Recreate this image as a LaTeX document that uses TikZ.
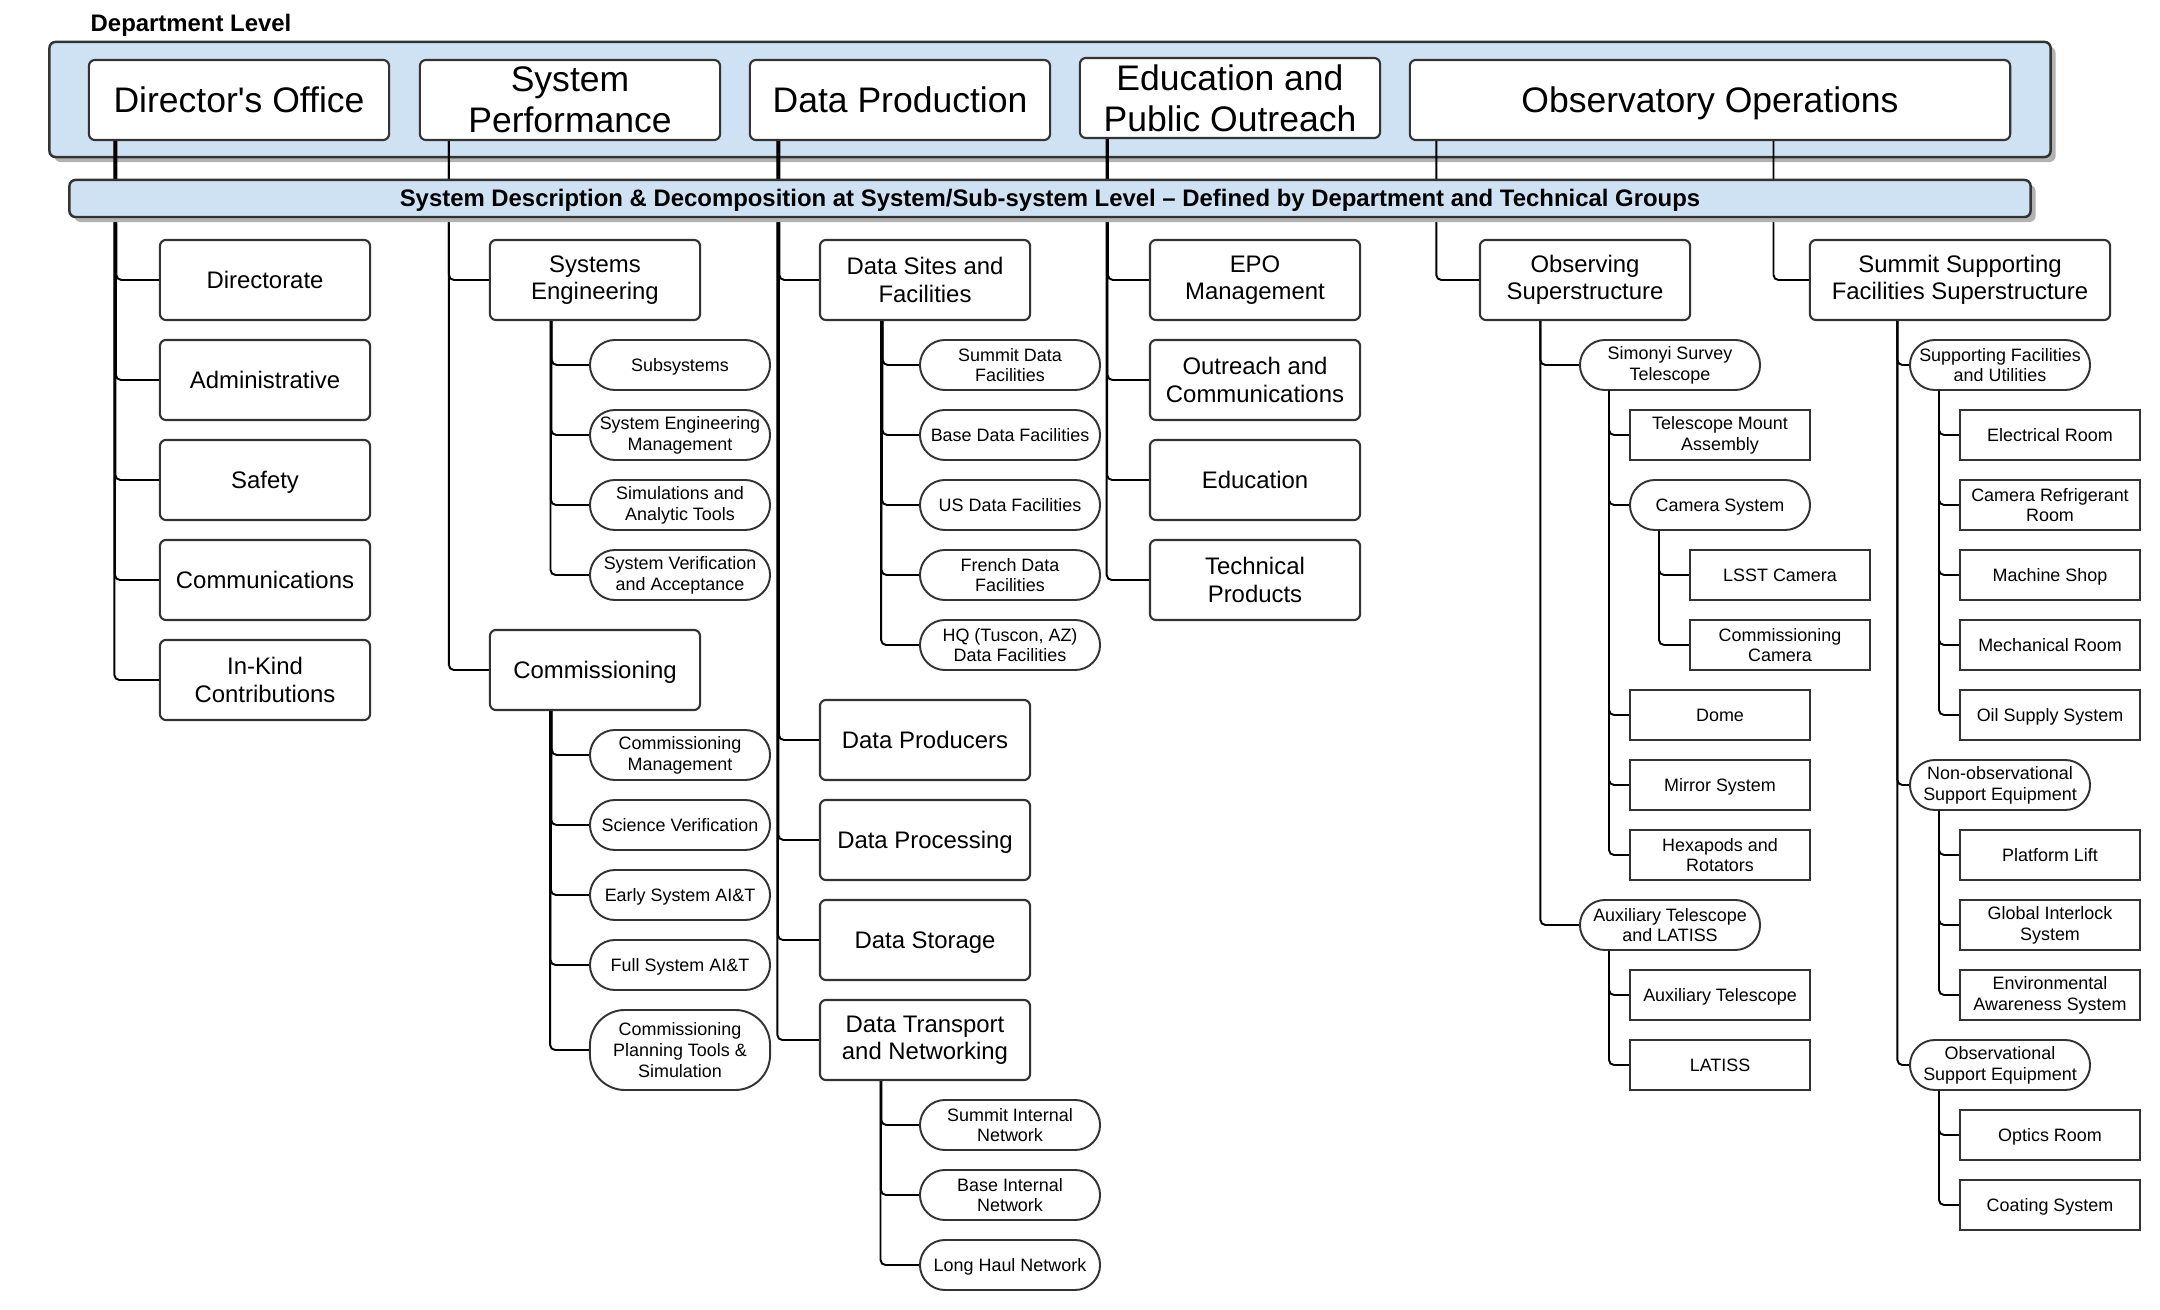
\documentclass[tikz,border=0pt]{standalone}
\usepackage{fontspec}
\setmainfont{Liberation Sans}
\usetikzlibrary{shadows}
\definecolor{bandblue}{HTML}{CFE2F3}
\definecolor{boxline}{HTML}{333333}
\newcommand{\linestrut}{\rule[-0.2em]{0pt}{1.1em}}

\begin{document}
\begin{tikzpicture}[x=0.01cm,y=-0.01cm]
	\tikzset{one/.style = {execute at begin node=\linestrut, execute at end node=\linestrut}}
	\tikzset{band/.style = {draw=boxline, fill=bandblue, line width=0.7pt, rounded corners=0.06cm, inner sep=0pt,
		drop shadow={shadow xshift=0.05cm, shadow yshift=-0.05cm, fill=black!30, opacity=1}}}
	\tikzset{dept/.style = {draw=boxline, fill=white, line width=0.6pt, rounded corners=0.06cm, minimum width=3cm,
		minimum height=0.8cm, inner sep=0pt, align=center, font=\fontsize{10.1}{11.6}\selectfont}}
	\tikzset{group/.style = {draw=boxline, fill=white, line width=0.6pt, rounded corners=0.06cm, minimum width=2.1cm,
		minimum height=0.8cm, inner sep=0pt, align=center, font=\fontsize{6.8}{7.8}\selectfont}}
	\tikzset{pill/.style = {draw=boxline, fill=white, line width=0.55pt, rounded corners=0.25cm, minimum width=1.8cm,
		minimum height=0.5cm, inner sep=0pt, align=center, font=\fontsize{5.1}{5.9}\selectfont}}
	\tikzset{leaf/.style = {draw=boxline, fill=white, line width=0.55pt, minimum width=1.8cm,
		minimum height=0.5cm, inner sep=0pt, align=center, font=\fontsize{5.1}{5.9}\selectfont}}
	\tikzset{link/.style = {draw=black, line width=0.55pt, rounded corners=0.05cm}}
	\useasboundingbox (0,0) rectangle (2160,1310);

	% department level
	\node[one, anchor=west, font=\bfseries\fontsize{6.8}{7.8}\selectfont, inner sep=0pt] (title) at (90,23) {Department Level};
	\node[band, minimum width=20cm, minimum height=1.15cm] (deptband) at (1050,99.5) {};
	\node[dept, one] (dir) at (239,100) {Director{\textquotesingle}s Office};
	\node[dept] (sysperf) at (570,100) {System\\Performance};
	\node[dept, one] (dataprod) at (900,100) {Data Production};
	\node[dept] (epo) at (1230,98) {Education and\\Public Outreach};
	\node[dept, one, minimum width=6cm] (obsops) at (1710,100) {Observatory Operations};

	% director's office
	\node[group, one] (directorate) at (265,280) {Directorate};
	\node[group, one] (admin) at (265,380) {Administrative};
	\node[group, one] (safety) at (265,480) {Safety};
	\node[group, one] (comms) at (265,580) {Communications};
	\node[group] (inkind) at (265,680) {In-Kind\\Contributions};

	% system performance
	\node[group] (syseng) at (595,280) {Systems\\Engineering};
	\node[pill, one] (subsys) at (680,365) {Subsystems};
	\node[pill] (semgmt) at (680,435) {System Engineering\\Management};
	\node[pill] (simtools) at (680,505) {Simulations and\\Analytic Tools};
	\node[pill] (sva) at (680,575) {System Verification\\and Acceptance};
	\node[group, one] (commiss) at (595,670) {Commissioning};
	\node[pill] (commgmt) at (680,755) {Commissioning\\Management};
	\node[pill, one] (sciver) at (680,825) {Science Verification};
	\node[pill, one] (earlyait) at (680,895) {Early System AI\&T};
	\node[pill, one] (fullait) at (680,965) {Full System AI\&T};
	\node[pill, minimum height=0.8cm, rounded corners=0.35cm] (complan) at (680,1050) {Commissioning\\Planning Tools \&\\Simulation};

	% data production
	\node[group] (datasites) at (925,280) {Data Sites and\\Facilities};
	\node[pill] (summitdf) at (1010,365) {Summit Data\\Facilities};
	\node[pill, one] (basedf) at (1010,435) {Base Data Facilities};
	\node[pill, one] (usdf) at (1010,505) {US Data Facilities};
	\node[pill] (frenchdf) at (1010,575) {French Data\\Facilities};
	\node[pill] (hqdf) at (1010,645) {HQ (Tuscon, AZ)\\Data Facilities};
	\node[group, one] (producers) at (925,740) {Data Producers};
	\node[group, one] (processing) at (925,840) {Data Processing};
	\node[group, one] (storage) at (925,940) {Data Storage};
	\node[group] (transport) at (925,1040) {Data Transport\\and Networking};
	\node[pill] (summitnet) at (1010,1125) {Summit Internal\\Network};
	\node[pill] (basenet) at (1010,1195) {Base Internal\\Network};
	\node[pill, one] (longhaul) at (1010,1265) {Long Haul Network};

	% education and public outreach
	\node[group] (epomgmt) at (1255,280) {EPO\\Management};
	\node[group] (outreach) at (1255,380) {Outreach and\\Communications};
	\node[group, one] (education) at (1255,480) {Education};
	\node[group] (techprod) at (1255,580) {Technical\\Products};

	% observatory operations
	\node[group] (obssuper) at (1585,280) {Observing\\Superstructure};
	\node[pill] (simonyi) at (1670,365) {Simonyi Survey\\Telescope};
	\node[leaf] (tma) at (1720,435) {Telescope Mount\\Assembly};
	\node[pill, one] (camsys) at (1720,505) {Camera System};
	\node[leaf, one] (lsstcam) at (1780,575) {LSST Camera};
	\node[leaf] (comcam) at (1780,645) {Commissioning\\Camera};
	\node[leaf, one] (dome) at (1720,715) {Dome};
	\node[leaf, one] (mirror) at (1720,785) {Mirror System};
	\node[leaf] (hexapods) at (1720,855) {Hexapods and\\Rotators};
	\node[pill] (auxlatiss) at (1670,925) {Auxiliary Telescope\\and LATISS};
	\node[leaf, one] (auxtel) at (1720,995) {Auxiliary Telescope};
	\node[leaf, one] (latiss) at (1720,1065) {LATISS};

	\node[group, minimum width=3cm] (summitsup) at (1960,280) {Summit Supporting\\Facilities Superstructure};
	\node[pill] (sfu) at (2000,365) {Supporting Facilities\\and Utilities};
	\node[leaf, one] (elecroom) at (2050,435) {Electrical Room};
	\node[leaf] (camref) at (2050,505) {Camera Refrigerant\\Room};
	\node[leaf, one] (machshop) at (2050,575) {Machine Shop};
	\node[leaf, one] (mechroom) at (2050,645) {Mechanical Room};
	\node[leaf, one] (oilsupply) at (2050,715) {Oil Supply System};
	\node[pill] (nonobs) at (2000,785) {Non-observational\\Support Equipment};
	\node[leaf, one] (platlift) at (2050,855) {Platform Lift};
	\node[leaf] (interlock) at (2050,925) {Global Interlock\\System};
	\node[leaf] (envaware) at (2050,995) {Environmental\\Awareness System};
	\node[pill] (obssupport) at (2000,1065) {Observational\\Support Equipment};
	\node[leaf, one] (optics) at (2050,1135) {Optics Room};
	\node[leaf, one] (coating) at (2050,1205) {Coating System};

	% connectors
	\draw[link] ([xshift=0.285cm]dir.south west) |- (directorate.west);
	\draw[link] ([xshift=0.28cm]dir.south west) |- (admin.west);
	\draw[link] ([xshift=0.275cm]dir.south west) |- (safety.west);
	\draw[link] ([xshift=0.27cm]dir.south west) |- (comms.west);
	\draw[link] ([xshift=0.265cm]dir.south west) |- (inkind.west);

	\draw[link] ([xshift=0.3cm]sysperf.south west) |- (syseng.west);
	\draw[link] ([xshift=0.3cm]sysperf.south west) |- (commiss.west);
	\draw[link] ([xshift=0.628cm]syseng.south west) |- (subsys.west);
	\draw[link] ([xshift=0.624cm]syseng.south west) |- (semgmt.west);
	\draw[link] ([xshift=0.62cm]syseng.south west) |- (simtools.west);
	\draw[link] ([xshift=0.616cm]syseng.south west) |- (sva.west);
	\draw[link] ([xshift=0.628cm]commiss.south west) |- (commgmt.west);
	\draw[link] ([xshift=0.624cm]commiss.south west) |- (sciver.west);
	\draw[link] ([xshift=0.62cm]commiss.south west) |- (earlyait.west);
	\draw[link] ([xshift=0.616cm]commiss.south west) |- (fullait.west);
	\draw[link] ([xshift=0.612cm]commiss.south west) |- (complan.west);

	\draw[link] ([xshift=0.305cm]dataprod.south west) |- (datasites.west);
	\draw[link] ([xshift=0.3cm]dataprod.south west) |- (producers.west);
	\draw[link] ([xshift=0.295cm]dataprod.south west) |- (processing.west);
	\draw[link] ([xshift=0.29cm]dataprod.south west) |- (storage.west);
	\draw[link] ([xshift=0.285cm]dataprod.south west) |- (transport.west);
	\draw[link] ([xshift=0.638cm]datasites.south west) |- (summitdf.west);
	\draw[link] ([xshift=0.634cm]datasites.south west) |- (basedf.west);
	\draw[link] ([xshift=0.63cm]datasites.south west) |- (usdf.west);
	\draw[link] ([xshift=0.626cm]datasites.south west) |- (frenchdf.west);
	\draw[link] ([xshift=0.622cm]datasites.south west) |- (hqdf.west);
	\draw[link] ([xshift=0.624cm]transport.south west) |- (summitnet.west);
	\draw[link] ([xshift=0.62cm]transport.south west) |- (basenet.west);
	\draw[link] ([xshift=0.616cm]transport.south west) |- (longhaul.west);

	\draw[link] ([xshift=0.29cm]epo.south west) |- (epomgmt.west);
	\draw[link] ([xshift=0.286cm]epo.south west) |- (outreach.west);
	\draw[link] ([xshift=0.282cm]epo.south west) |- (education.west);
	\draw[link] ([xshift=0.278cm]epo.south west) |- (techprod.west);

	\draw[link] ([xshift=0.275cm]obsops.south west) |- (obssuper.west);
	\draw[link] ([xshift=3.645cm]obsops.south west) |- (summitsup.west);
	\draw[link] ([xshift=0.615cm]obssuper.south west) |- (simonyi.west);
	\draw[link] ([xshift=0.615cm]obssuper.south west) |- (auxlatiss.west);
	\draw[link] ([xshift=0.3cm]simonyi.south west) |- (tma.west);
	\draw[link] ([xshift=0.3cm]simonyi.south west) |- (camsys.west);
	\draw[link] ([xshift=0.3cm]simonyi.south west) |- (dome.west);
	\draw[link] ([xshift=0.3cm]simonyi.south west) |- (mirror.west);
	\draw[link] ([xshift=0.3cm]simonyi.south west) |- (hexapods.west);
	\draw[link] ([xshift=0.3cm]camsys.south west) |- (lsstcam.west);
	\draw[link] ([xshift=0.3cm]camsys.south west) |- (comcam.west);
	\draw[link] ([xshift=0.3cm]auxlatiss.south west) |- (auxtel.west);
	\draw[link] ([xshift=0.3cm]auxlatiss.south west) |- (latiss.west);

	\draw[link] ([xshift=0.885cm]summitsup.south west) |- (sfu.west);
	\draw[link] ([xshift=0.885cm]summitsup.south west) |- (nonobs.west);
	\draw[link] ([xshift=0.885cm]summitsup.south west) |- (obssupport.west);
	\draw[link] ([xshift=0.3cm]sfu.south west) |- (elecroom.west);
	\draw[link] ([xshift=0.3cm]sfu.south west) |- (camref.west);
	\draw[link] ([xshift=0.3cm]sfu.south west) |- (machshop.west);
	\draw[link] ([xshift=0.3cm]sfu.south west) |- (mechroom.west);
	\draw[link] ([xshift=0.3cm]sfu.south west) |- (oilsupply.west);
	\draw[link] ([xshift=0.3cm]nonobs.south west) |- (platlift.west);
	\draw[link] ([xshift=0.3cm]nonobs.south west) |- (interlock.west);
	\draw[link] ([xshift=0.3cm]nonobs.south west) |- (envaware.west);
	\draw[link] ([xshift=0.3cm]obssupport.south west) |- (optics.west);
	\draw[link] ([xshift=0.3cm]obssupport.south west) |- (coating.west);

	% system level band, over the connectors
	\node[band, one, minimum width=19.6cm, minimum height=0.37cm, font=\bfseries\fontsize{6.8}{7.8}\selectfont] (sysband) at (1050,198.5)
		{System Description \& Decomposition at System/Sub-system Level -- Defined by Department and Technical Groups};
\end{tikzpicture}
\end{document}
